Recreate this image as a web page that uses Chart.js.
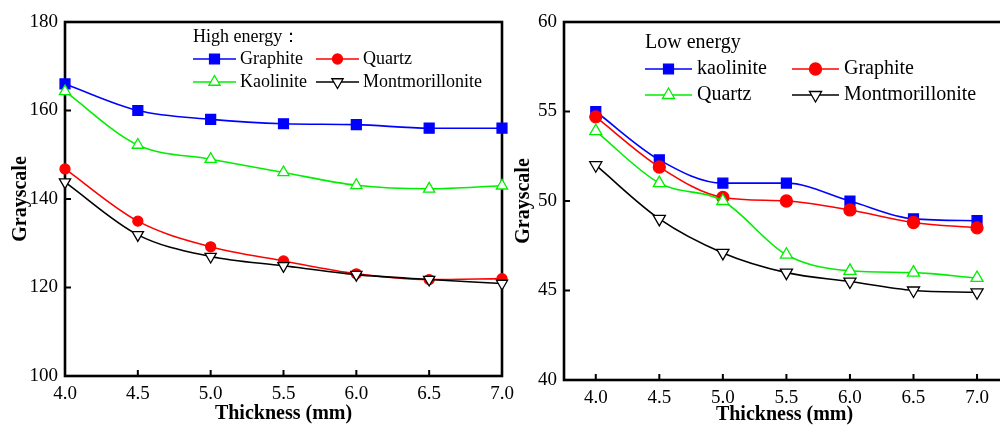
<!DOCTYPE html>
<html>
<head>
<meta charset="utf-8">
<script src="https://cdn.jsdelivr.net/npm/chart.js@4.4.0/dist/chart.umd.min.js"></script>
<style>
    html, body { margin: 0; padding: 0; background: #fff; overflow: hidden; width: 1000px; height: 427px; }
    canvas { position: absolute; top: 0; }
    #high_plot { left: 0; }
    #low_plot { left: 505px; }
</style>
</head>
<body>
<canvas id="high_plot" width="520" height="427"></canvas>
<canvas id="low_plot" width="520" height="427"></canvas>
<script>
'use strict';

// thickness values on the x axis (mm)
const thickness = [4.0, 4.5, 5.0, 5.5, 6.0, 6.5, 7.0];
const xTicks = [4.0, 4.5, 5.0, 5.5, 6.0, 6.5, 7.0];

// high energy grayscale
const highLabels = ['Graphite', 'Quartz', 'Kaolinite', 'Montmorillonite'];
const highGraphite = [166, 160, 158, 157, 156.8, 156, 156];
const highQuartz = [146.8, 135, 129.2, 126, 123.1, 121.8, 122];
const highKaolinite = [164.3, 152.2, 149, 146, 143.1, 142.3, 143];
const highMontmorillonite = [143.8, 131.9, 127, 124.9, 122.9, 121.8, 120.9];
const highYTicks = [100, 120, 140, 160, 180];

// low energy grayscale
const lowLabels = ['kaolinite', 'Graphite', 'Quartz', 'Montmorillonite'];
const lowKaolinite = [55, 52.3, 51, 51, 50, 49, 48.9];
const lowGraphite = [54.7, 51.9, 50.2, 50, 49.5, 48.8, 48.5];
const lowQuartz = [53.9, 51, 50, 47, 46.1, 46, 45.7];
const lowMontmorillonite = [52, 49, 47.1, 46, 45.5, 45, 44.9];
const lowYTicks = [40, 45, 50, 55, 60];

const SERIF = "'Liberation Serif', 'Times New Roman', serif";

function toPoints(values) {
    return thickness.map((x, i) => ({x: x, y: values[i]}));
}

function series(label, values, color, style, fill, radius, order, rotation) {
    return {
        label: label,
        data: toPoints(values),
        borderColor: color,
        borderWidth: 1.6,
        pointStyle: style,
        pointRadius: radius,
        pointRotation: rotation || 0,
        pointBackgroundColor: fill,
        pointBorderColor: color,
        pointBorderWidth: 1.3,
        cubicInterpolationMode: 'monotone',
        fill: false,
        clip: false,
        order: order
    };
}

// box round the plot area, with short inward ticks
const framePlugin = {
    id: 'frame',
    beforeDatasetsDraw: function (chart) {
        const ctx = chart.ctx, a = chart.chartArea, sx = chart.scales.x, sy = chart.scales.y;
        ctx.save();
        ctx.strokeStyle = '#000';
        ctx.lineWidth = 2.6;
        ctx.strokeRect(a.left, a.top, a.right - a.left, a.bottom - a.top);
        ctx.lineWidth = 2;
        ctx.beginPath();
        sx.ticks.forEach(t => {
            const px = sx.getPixelForValue(t.value);
            ctx.moveTo(px, a.bottom);
            ctx.lineTo(px, a.bottom - 6);
        });
        sy.ticks.forEach(t => {
            const py = sy.getPixelForValue(t.value);
            ctx.moveTo(a.left, py);
            ctx.lineTo(a.left + 6, py);
        });
        ctx.stroke();
        ctx.restore();
    }
};

// two column key with a title, drawn from the datasets
const keyPlugin = {
    id: 'seriesKey',
    afterDatasetsDraw: function (chart, args, opts) {
        const ctx = chart.ctx, a = chart.chartArea;
        ctx.save();
        ctx.font = opts.fontSize + 'px ' + SERIF;
        ctx.fillStyle = '#000';
        ctx.textBaseline = 'middle';
        ctx.textAlign = 'left';
        ctx.fillText(opts.title, a.left + opts.x, a.top + opts.titleY);
        chart.data.datasets.forEach((ds, i) => {
            const col = i % 2, row = Math.floor(i / 2);
            const x0 = a.left + opts.x + col * opts.colGap;
            const y0 = a.top + opts.rowY[row];
            ctx.strokeStyle = ds.borderColor;
            ctx.lineWidth = ds.borderWidth;
            ctx.beginPath();
            ctx.moveTo(x0, y0);
            ctx.lineTo(x0 + opts.lineLen, y0);
            ctx.stroke();
            ctx.fillStyle = ds.pointBackgroundColor;
            ctx.lineWidth = ds.pointBorderWidth;
            Chart.helpers.drawPoint(ctx, {
                pointStyle: ds.pointStyle,
                radius: ds.pointRadius,
                rotation: ds.pointRotation,
                borderWidth: ds.pointBorderWidth
            }, x0 + opts.lineLen / 2, y0);
            ctx.fillStyle = '#000';
            ctx.fillText(ds.label, x0 + opts.lineLen + opts.textGap, y0);
        });
        ctx.restore();
    }
};

function drawChart(id, datasets, cfg) {
    const ctx = document.getElementById(id).getContext('2d');
    new Chart(ctx, {
        type: 'line',
        data: {datasets: datasets},
        plugins: [framePlugin, keyPlugin],
        options: {
            responsive: false,
            animation: false,
            events: [],
            layout: {padding: {top: 22, right: cfg.padRight, left: 0, bottom: 0}},
            plugins: {
                legend: {display: false},
                tooltip: {enabled: false},
                seriesKey: cfg.key
            },
            scales: {
                x: {
                    type: 'linear',
                    min: cfg.xMin,
                    max: cfg.xMax,
                    afterBuildTicks: scale => { scale.ticks = xTicks.map(v => ({value: v})); },
                    afterFit: scale => {
                        scale.height = cfg.xHeight;
                        scale.paddingLeft = 0;
                        scale.paddingRight = 0;
                    },
                    grid: {display: false, drawTicks: false},
                    border: {display: false},
                    ticks: {
                        color: '#000',
                        padding: 7,
                        maxRotation: 0,
                        autoSkip: false,
                        font: {family: SERIF, size: 19},
                        callback: v => Number(v).toFixed(1)
                    },
                    title: {
                        display: true,
                        text: 'Thickness (mm)',
                        color: '#000',
                        padding: {top: 0, bottom: cfg.xTitlePad},
                        font: {family: SERIF, size: 20, weight: 'bold'}
                    }
                },
                y: {
                    type: 'linear',
                    min: cfg.yTicks[0],
                    max: cfg.yTicks[cfg.yTicks.length - 1],
                    afterBuildTicks: scale => { scale.ticks = cfg.yTicks.map(v => ({value: v})); },
                    afterFit: scale => { scale.width = cfg.yWidth; },
                    grid: {display: false, drawTicks: false},
                    border: {display: false},
                    ticks: {
                        color: '#000',
                        padding: 7,
                        font: {family: SERIF, size: 19}
                    },
                    title: {
                        display: true,
                        text: 'Grayscale',
                        color: '#000',
                        padding: {top: cfg.yTitlePad, bottom: 0},
                        font: {family: SERIF, size: 20, weight: 'bold'}
                    }
                }
            }
        }
    });
}

drawChart('high_plot', [
    series(highLabels[0], highGraphite, '#0000ff', 'rect', '#0000ff', 7, 3),
    series(highLabels[1], highQuartz, '#ff0000', 'circle', '#ff0000', 5, 2),
    series(highLabels[2], highKaolinite, '#00ee00', 'triangle', '#ffffff', 6.5, 1),
    series(highLabels[3], highMontmorillonite, '#000000', 'triangle', '#ffffff', 6.5, 0, 180)
], {
    xMin: 4.0, xMax: 7.0, padRight: 18, xHeight: 51, yWidth: 65, yTitlePad: 9, xTitlePad: 1,
    yTicks: highYTicks,
    key: {title: 'High energy：', fontSize: 18, x: 128, titleY: 15, rowY: [37, 60],
          colGap: 123, lineLen: 43, textGap: 4}
});

drawChart('low_plot', [
    series(lowLabels[0], lowKaolinite, '#0000ff', 'rect', '#0000ff', 7, 3),
    series(lowLabels[1], lowGraphite, '#ff0000', 'circle', '#ff0000', 6, 2),
    series(lowLabels[2], lowQuartz, '#00ee00', 'triangle', '#ffffff', 7, 0),
    series(lowLabels[3], lowMontmorillonite, '#000000', 'triangle', '#ffffff', 7, 1, 180)
], {
    xMin: 3.75, xMax: 7.22, padRight: 20, xHeight: 47, yWidth: 59, yTitlePad: 7, xTitlePad: 0,
    yTicks: lowYTicks,
    key: {title: 'Low energy', fontSize: 20, x: 81, titleY: 21, rowY: [47, 73],
          colGap: 147, lineLen: 47, textGap: 5}
});
</script>
</body>
</html>
